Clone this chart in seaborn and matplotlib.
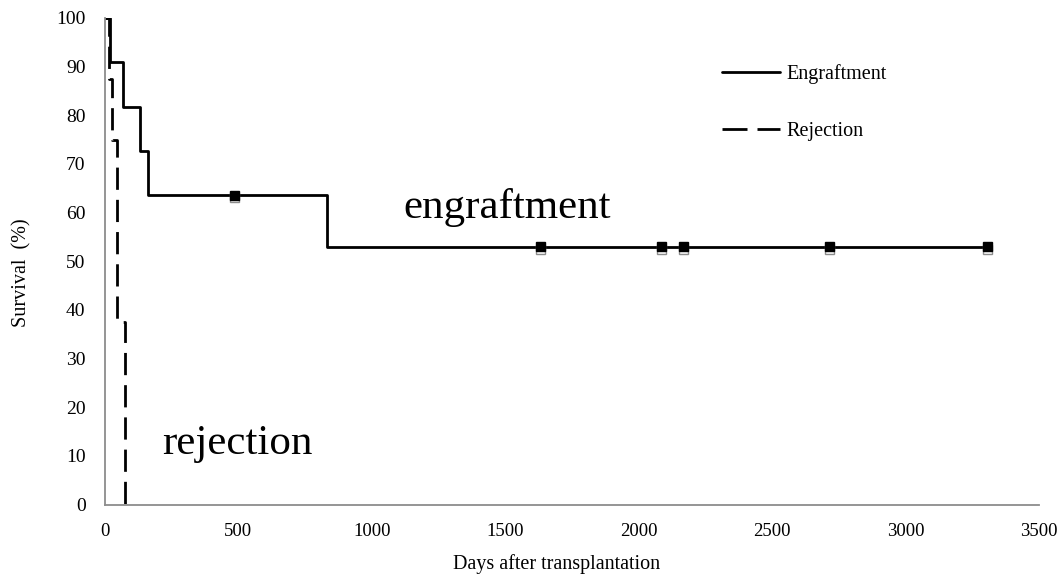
import matplotlib
matplotlib.use("Agg")
import matplotlib.pyplot as plt
import matplotlib.patheffects as pe
import seaborn as sns
import pandas as pd

# ---- data ----
engraft_days = [0, 20, 69, 131, 162, 832, 3306]
engraft_surv = [100, 90.9, 81.8, 72.7, 63.6, 53.0, 53.0]
engraft_cens_days = [487, 1633, 2087, 2169, 2716, 3306]
engraft_cens_surv = [63.6, 53.0, 53.0, 53.0, 53.0, 53.0]

reject_days = [0, 15, 25, 44, 75]
reject_surv = [100, 87.5, 75.0, 37.5, 0.0]

x_ticks = [0, 500, 1000, 1500, 2000, 2500, 3000, 3500]
y_ticks = [0, 10, 20, 30, 40, 50, 60, 70, 80, 90, 100]

sns.set_theme(style="white")
plt.rcParams["font.family"] = ["Liberation Serif", "DejaVu Serif"]
plt.rcParams["text.color"] = "black"
plt.rcParams["axes.labelcolor"] = "black"

fig = plt.figure(figsize=(10.59, 5.77), dpi=100)
ax = fig.add_axes([105 / 1059, 1 - 504.5 / 577, (1039 - 105) / 1059, (504.5 - 18) / 577])

df_e = pd.DataFrame({"day": engraft_days, "surv": engraft_surv})
df_r = pd.DataFrame({"day": reject_days, "surv": reject_surv})
df_c = pd.DataFrame({"day": engraft_cens_days, "surv": engraft_cens_surv})

sns.lineplot(data=df_e, x="day", y="surv", ax=ax, color="black", lw=2.0,
             drawstyle="steps-post", estimator=None, sort=False, label="Engraftment")
sns.lineplot(data=df_r, x="day", y="surv", ax=ax, color="black", lw=2.0,
             drawstyle="steps-post", estimator=None, sort=False, label="Rejection",
             dashes=False)
ax.lines[-1].set_dashes((8, 3.6))

ax.plot(df_c["day"], df_c["surv"], ls="none", marker="s", ms=6.5, color="black",
        path_effects=[pe.SimpleLineShadow(offset=(0, -2), shadow_color="gray", alpha=0.9),
                      pe.Normal()])

ax.set_xlim(0, 3500)
ax.set_ylim(0, 100)
ax.set_xticks(x_ticks)
ax.set_yticks(y_ticks)
ax.tick_params(axis="both", which="both", direction="out", length=5, width=1,
               color="#8c8c8c", labelcolor="black")
ax.tick_params(axis="x", pad=8, labelsize=13.5)
ax.tick_params(axis="y", pad=9, labelsize=14)
for s in ["top", "right"]:
    ax.spines[s].set_visible(False)
for s in ["left", "bottom"]:
    ax.spines[s].set_color("#8c8c8c")
    ax.spines[s].set_linewidth(1.3)
ax.grid(False)

ax.set_xlabel("Days after transplantation", fontsize=14.5)
ax.set_ylabel("Survival  (%)", fontsize=14.5)
ax.xaxis.set_label_coords((557 - 105) / 934, -(564 - 504.5) / 486, transform=ax.transAxes)
ax.yaxis.set_label_coords(-(105 - 22) / 934, 0.5 - (272 - 261) / 486, transform=ax.transAxes)
ax.xaxis.label.set_va("center")
ax.yaxis.label.set_va("center")

ax.text(1507, 61.0, "engraftment", fontsize=31, ha="center", va="center")
ax.text(495, 12.5, "rejection", fontsize=31, ha="center", va="center")

leg = ax.legend(loc="upper left", bbox_to_anchor=((722 - 105) / 934, 1 - (64 - 18) / 486),
                frameon=False, fontsize=14.5, handlelength=2.9, handletextpad=0.3,
                labelspacing=1.9, borderaxespad=0, borderpad=0)
for h in leg.get_lines():
    h.set_linewidth(2.0)
leg.get_lines()[1].set_dashes((9, 3.6))

fig.savefig("out.png", dpi=100)
